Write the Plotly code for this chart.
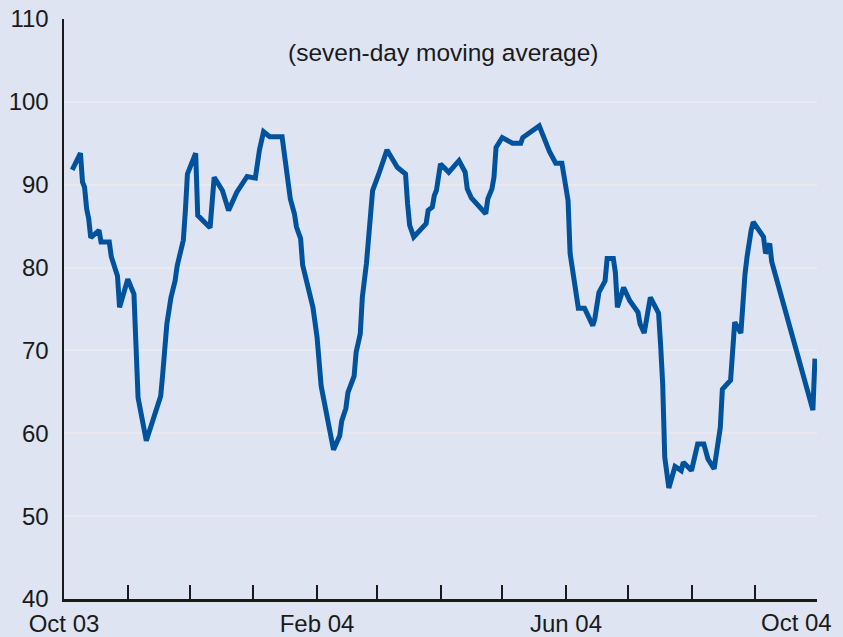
import plotly.graph_objects as go

dates = [
    "2003-10-05", "2003-10-09", "2003-10-10", "2003-10-11", "2003-10-12", "2003-10-13", "2003-10-14",
    "2003-10-18", "2003-10-19", "2003-10-23", "2003-10-24", "2003-10-27", "2003-10-28",
    "2003-11-01", "2003-11-04", "2003-11-06", "2003-11-10", "2003-11-17", "2003-11-18", "2003-11-20",
    "2003-11-22", "2003-11-24", "2003-11-25", "2003-11-28", "2003-11-29", "2003-11-30",
    "2003-12-04", "2003-12-05", "2003-12-11", "2003-12-13", "2003-12-17", "2003-12-20", "2003-12-24",
    "2003-12-29",
    "2004-01-02", "2004-01-03", "2004-01-04", "2004-01-06", "2004-01-09", "2004-01-15", "2004-01-16",
    "2004-01-17", "2004-01-19", "2004-01-21", "2004-01-22", "2004-01-24", "2004-01-25", "2004-01-30",
    "2004-02-01", "2004-02-03", "2004-02-09", "2004-02-12", "2004-02-13", "2004-02-15", "2004-02-16",
    "2004-02-19", "2004-02-20", "2004-02-22", "2004-02-23", "2004-02-25", "2004-02-26", "2004-02-27",
    "2004-02-28",
    "2004-03-02", "2004-03-06", "2004-03-11", "2004-03-15", "2004-03-16", "2004-03-17", "2004-03-19",
    "2004-03-25", "2004-03-26", "2004-03-28", "2004-03-29", "2004-03-30",
    "2004-04-01", "2004-04-05", "2004-04-10", "2004-04-13", "2004-04-14", "2004-04-16", "2004-04-23",
    "2004-04-24", "2004-04-26", "2004-04-27", "2004-04-28",
    "2004-05-01", "2004-05-06", "2004-05-10", "2004-05-11", "2004-05-19", "2004-05-24", "2004-05-27",
    "2004-05-30",
    "2004-06-02", "2004-06-03", "2004-06-05", "2004-06-07", "2004-06-10", "2004-06-14", "2004-06-15",
    "2004-06-16", "2004-06-17", "2004-06-20", "2004-06-21", "2004-06-24", "2004-06-25", "2004-06-26",
    "2004-06-29",
    "2004-07-02", "2004-07-06", "2004-07-07", "2004-07-09", "2004-07-12", "2004-07-16", "2004-07-17",
    "2004-07-18", "2004-07-19", "2004-07-21", "2004-07-24", "2004-07-27", "2004-07-28",
    "2004-08-01", "2004-08-04", "2004-08-07", "2004-08-09", "2004-08-12", "2004-08-15", "2004-08-16",
    "2004-08-20", "2004-08-21", "2004-08-22", "2004-08-25", "2004-08-26", "2004-08-27", "2004-08-28",
    "2004-08-29", "2004-08-30", "2004-08-31",
    "2004-09-05", "2004-09-06", "2004-09-08", "2004-09-09", "2004-09-29", "2004-09-30",
]

values = [
    91.8, 93.8, 90.3, 89.7, 87.1, 85.9, 83.6,
    84.5, 83.1, 83.1, 81.3, 79.0, 75.2,
    78.6, 76.8, 64.3, 59.1, 64.5, 67.2, 73.2,
    76.4, 78.4, 80.2, 83.3, 86.9, 91.3,
    93.8, 86.3, 84.8, 90.9, 89.3, 86.9, 89.1,
    91.0,
    90.8, 93.2, 94.2, 96.4, 95.8, 95.8, 93.8,
    91.7, 88.3, 86.5, 84.9, 83.5, 80.3, 75.2,
    71.6, 65.7, 58.0, 59.7, 61.5, 63.0, 64.9,
    66.9, 69.8, 72.0, 76.4, 80.5, 84.1, 86.1,
    89.3,
    91.3, 94.2, 92.1, 91.3, 87.7, 85.1, 83.7,
    85.3, 86.9, 87.3, 88.7, 89.3,
    92.5, 91.5, 92.9, 91.5, 89.5, 88.4, 86.5,
    88.3, 89.5, 90.9, 94.5,
    95.7, 95.0, 95.0, 95.7, 97.1, 94.0, 92.6,
    92.6,
    88.1, 81.7, 78.8, 75.1, 75.1, 73.0, 73.8,
    75.6, 77.0, 78.4, 81.1, 81.1, 79.4, 75.2,
    77.6,
    76.0, 74.6, 73.2, 72.1, 76.4, 74.5, 70.6,
    65.9, 57.1, 53.4, 56.0, 55.5, 56.5,
    55.5, 58.7, 58.7, 56.9, 55.7, 60.7, 65.3,
    66.4, 69.4, 73.4, 72.1, 76.2, 79.2, 81.3,
    83.5, 84.5, 85.5,
    83.7, 81.7, 82.9, 80.7, 62.8, 69.0,
]

month_ticks = [
    "2003-10-01", "2003-11-01", "2003-12-01", "2004-01-01", "2004-02-01", "2004-03-01", "2004-04-01",
    "2004-05-01", "2004-06-01", "2004-07-01", "2004-08-01", "2004-09-01", "2004-10-01",
]
month_labels = ["Oct 03", "", "", "", "Feb 04", "", "", "", "Jun 04", "", "", "", ""]
last_label = "Oct 04"

y_ticks = [40, 50, 60, 70, 80, 90, 100, 110]
subtitle = "(seven-day moving average)"

FONT = "Liberation Sans, Arial, Helvetica, sans-serif"
BG = "#dee4f2"
TXT = "#1a1a1a"

fig = go.Figure()
fig.add_trace(go.Scatter(
    x=dates, y=values, mode="lines",
    line=dict(color="#00529c", width=5),
    hoverinfo="skip", showlegend=False,
))

fig.update_layout(
    width=843, height=637,
    margin=dict(l=64, r=26, t=19, b=38, autoexpand=False),
    paper_bgcolor=BG, plot_bgcolor=BG,
    font=dict(family=FONT, size=24, color=TXT),
    showlegend=False,
)

fig.update_xaxes(
    type="date", automargin=False,
    range=["2003-10-01", "2004-10-01"],
    tickmode="array", tickvals=month_ticks, ticktext=month_labels,
    ticks="inside", ticklen=14, tickwidth=2, tickcolor=TXT,
    ticklabelstandoff=2,
    showline=True, linecolor=TXT, linewidth=2.5,
    showgrid=False, zeroline=False,
    tickfont=dict(family=FONT, size=24, color=TXT),
)

fig.update_yaxes(
    range=[40, 110], automargin=False,
    tickmode="array", tickvals=y_ticks,
    ticks="", ticklabelstandoff=8,
    showline=True, linecolor=TXT, linewidth=2.5,
    showgrid=True, gridcolor="#e8eaf0", gridwidth=2,
    zeroline=False,
    tickfont=dict(family=FONT, size=24, color=TXT),
)

fig.add_annotation(
    x="2004-10-01", y=0, xref="x", yref="paper",
    text=last_label, showarrow=False,
    xanchor="right", yanchor="top", xshift=17, yshift=-8,
    font=dict(family=FONT, size=24, color=TXT),
)

fig.add_annotation(
    x=0.504, y=0.943, xref="paper", yref="paper",
    text=subtitle, showarrow=False,
    xanchor="center", yanchor="middle",
    font=dict(family=FONT, size=24.5, color=TXT),
)

fig.write_html(
    "out.html",
    config={"displayModeBar": False, "staticPlot": True},
    post_script="document.body.style.margin='0';document.body.style.background='" + BG + "';",
)
